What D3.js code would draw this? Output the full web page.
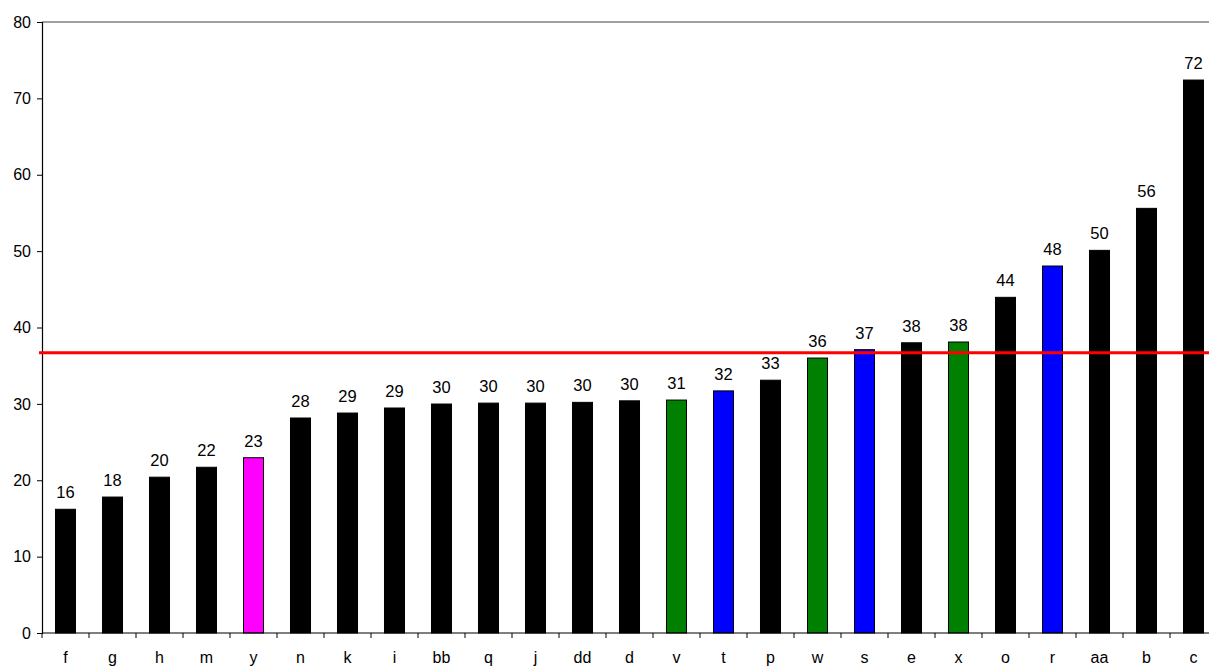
<!DOCTYPE html>
<html>
<head>
<meta charset="utf-8">
<script src="https://cdn.jsdelivr.net/npm/d3@7"></script>
<style>
  html, body { margin: 0; padding: 0; background: #fff; }
  svg { display: block; font-family: "Liberation Sans", Arial, sans-serif; }
</style>
</head>
<body>
<svg id="chart" width="1209" height="666"></svg>
<script>
// Category names in display order (ascending by value)
const categories = ["f","g","h","m","y","n","k","i","bb","q","j","dd","d","v","t","p","w","s","e","x","o","r","aa","b","c"];
// Bar values
const values = [16.2,17.8,20.4,21.7,22.95,28.15,28.8,29.46,29.98,30.1,30.1,30.2,30.4,30.5,31.7,33.1,36.0,37.1,38.0,38.1,43.95,48.05,50.1,55.6,72.4];
// Highlight group of each bar
const groups = ["k","k","k","k","m","k","k","k","k","k","k","k","k","g","b","k","g","b","k","g","k","b","k","k","k"];
// Reference level drawn as a horizontal red line
const referenceLevel = [36.7];
// Y axis ticks
const yTicks = [0,10,20,30,40,50,60,70,80];

const groupColor = { k: "#000000", m: "#FF00FF", g: "#008000", b: "#0000FF" };

const svg = d3.select("#chart");
const plotLeft = 42, plotRight = 1217, plotTop = 22, plotBottom = 633;
const fontFamily = "'Liberation Sans', Arial, sans-serif";

const x = d3.scaleBand()
  .domain(categories)
  .range([plotLeft, plotRight])
  .paddingInner(0.574)
  .paddingOuter(0.287);

const y = d3.scaleLinear().domain([0, 80]).range([plotBottom, plotTop]);

// Plot area top border
svg.append("line")
  .attr("x1", plotLeft).attr("x2", plotRight)
  .attr("y1", plotTop).attr("y2", plotTop)
  .attr("stroke", "#808080").attr("stroke-width", 1.5);

// Bars
const data = categories.map((c, i) => ({ c, v: values[i], g: groups[i] }));
svg.append("g").selectAll("rect").data(data).join("rect")
  .attr("x", d => x(d.c))
  .attr("y", d => y(d.v))
  .attr("width", x.bandwidth())
  .attr("height", d => y(0) - y(d.v))
  .attr("fill", d => groupColor[d.g])
  .attr("stroke", "#000")
  .attr("stroke-width", 1);

// Value labels
svg.append("g").selectAll("text").data(data).join("text")
  .attr("x", d => x(d.c) + x.bandwidth() / 2)
  .attr("y", d => y(d.v) - 11)
  .attr("text-anchor", "middle")
  .attr("font-family", fontFamily)
  .attr("font-size", 16.5)
  .attr("fill", "#000")
  .text(d => Math.round(d.v));

// Y axis
const yAxis = d3.axisLeft(y).tickValues(yTicks).tickSize(5).tickPadding(6);
const gy = svg.append("g").attr("transform", `translate(${plotLeft},0)`).call(yAxis);
gy.select(".domain").attr("stroke", "#000").attr("stroke-width", 1.2);
gy.selectAll(".tick line").attr("stroke", "#000");
gy.selectAll(".tick text").attr("font-size", 16).attr("fill", "#000")
  .attr("font-family", fontFamily);

// X axis: tick marks sit on band boundaries, labels at band centers
const gx = svg.append("g").attr("transform", `translate(0,${plotBottom})`);
gx.append("line")
  .attr("x1", plotLeft).attr("x2", plotRight)
  .attr("stroke", "#000").attr("stroke-width", 1.2);
const boundaries = categories.map(c => x(c) - x.step() * x.paddingInner() / 2);
gx.selectAll("line.tk").data(boundaries).join("line")
  .attr("class", "tk")
  .attr("x1", d => d).attr("x2", d => d)
  .attr("y1", 0).attr("y2", 5)
  .attr("stroke", "#000");
gx.selectAll("text").data(categories).join("text")
  .attr("x", d => x(d) + x.bandwidth() / 2)
  .attr("y", 30)
  .attr("text-anchor", "middle")
  .attr("font-family", fontFamily)
  .attr("font-size", 16)
  .attr("fill", "#000")
  .text(d => d);

// Reference line
svg.append("g").selectAll("line").data(referenceLevel).join("line")
  .attr("x1", plotLeft - 3).attr("x2", 1209)
  .attr("y1", d => y(d)).attr("y2", d => y(d))
  .attr("stroke", "#FF0000").attr("stroke-width", 3);
</script>
</body>
</html>
